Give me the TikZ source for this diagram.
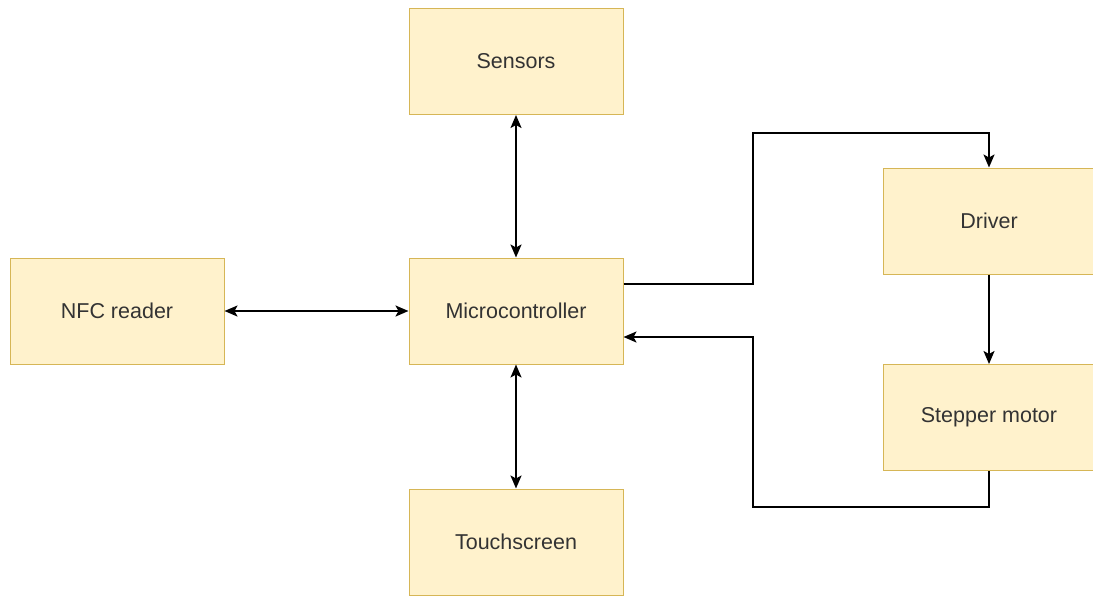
\documentclass[tikz,border=0pt]{standalone}
\usepackage{fontspec}
\setmainfont{Liberation Sans}
\usetikzlibrary{arrows.meta,calc}
\definecolor{boxfill}{HTML}{FFF2CC}
\definecolor{boxline}{HTML}{D6B656}
\definecolor{boxtext}{HTML}{333333}
\tikzset{
  block/.style={draw=boxline, fill=boxfill, line width=1pt, minimum width=214pt,
    minimum height=106pt, inner sep=0pt, text=boxtext,
    font=\fontsize{21.5}{26}\selectfont},
  link/.style={line width=2pt, draw=black},
  head/.tip={Stealth[length=13pt,width=11pt,inset=3pt]},
  tip/.style={-head},
  bitip/.style={head-head}
}
\begin{document}
\begin{tikzpicture}[x=1pt,y=-1pt]
\useasboundingbox (0,0) rectangle (1093,598);
\node[block] (sens) at (516,61.5) {Sensors};
\node[block] (mcu) at (516,311) {Microcontroller};
\node[block] (nfc) at (117,311) {NFC reader};
\node[block] (touch) at (516,542) {Touchscreen};
\node[block, minimum width=212pt] (drv) at (989,221) {Driver};
\node[block, minimum width=212pt] (step) at (989,417.5) {Stepper motor};

\coordinate (outA) at ($(mcu.east)+(0,-27)$);
\coordinate (inA) at ($(mcu.east)+(0,26)$);
\coordinate (drvtop) at (drv.north);
\coordinate (stepbot) at (step.south);

\draw[link,bitip] (sens.south) -- (mcu.north);
\draw[link,bitip] (nfc.east) -- (mcu.west);
\draw[link,bitip] (mcu.south) -- (touch.north);
\draw[link,tip] (outA) -- (753,284) |- (753,133) -| (drvtop);
\draw[link,tip] (drv.south) -- (step.north);
\draw[link,tip] (stepbot) |- (753,507) |- (inA);
\end{tikzpicture}
\end{document}
